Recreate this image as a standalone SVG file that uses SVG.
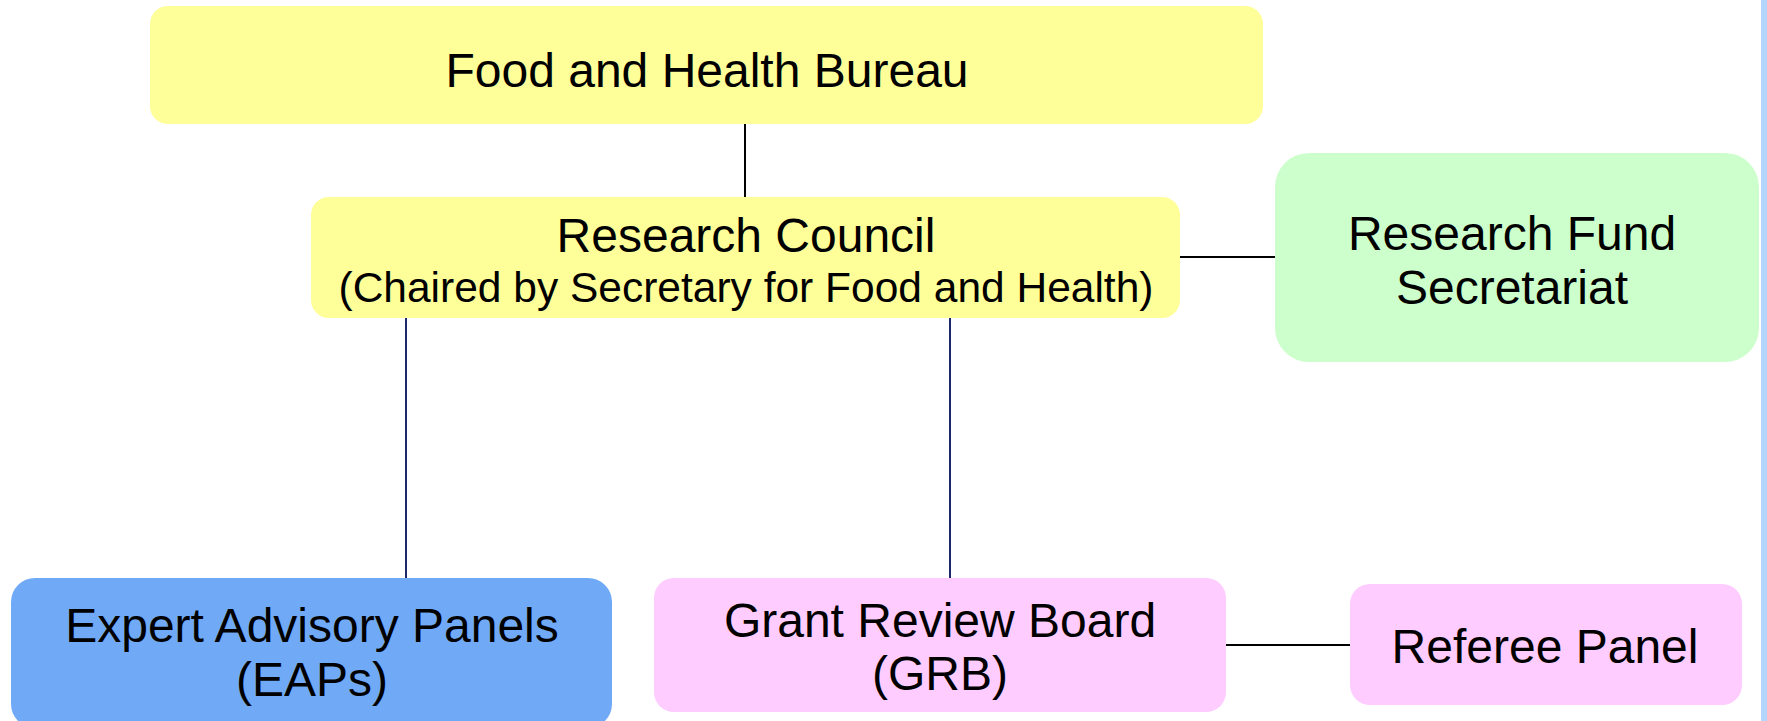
<svg xmlns="http://www.w3.org/2000/svg" width="1767" height="721" viewBox="0 0 1767 721">
<style>
text{font-family:"Liberation Sans",Arial,sans-serif;fill:#000;text-anchor:middle}
.t48{font-size:48px}
.t43{font-size:42.5px}
.yel{fill:#ffff99}
.grn{fill:#ccffcc}
.blu{fill:#70aaf7}
.pnk{fill:#ffccff}
.blk{stroke:#000;stroke-width:2;fill:none}
.nav{stroke:#1a2a6c;stroke-width:2;fill:none}
</style>
<rect x="0" y="0" width="1767" height="721" fill="#ffffff"/>
<rect x="1761" y="0" width="6" height="721" fill="#b5d6fc"/>
<g id="connectors">
<line class="blk" x1="745" y1="124" x2="745" y2="197"/>
<line class="blk" x1="1180" y1="257" x2="1275" y2="257"/>
<line class="nav" x1="406" y1="318" x2="406" y2="578"/>
<line class="nav" x1="950" y1="318" x2="950" y2="578"/>
<line class="blk" x1="1226" y1="645" x2="1350" y2="645"/>
</g>
<g id="fhb">
<rect class="yel" x="150" y="6" width="1113" height="118" rx="18"/>
<text class="t48" x="707" y="87">Food and Health Bureau</text>
</g>
<g id="rc">
<rect class="yel" x="311" y="197" width="869" height="121" rx="18"/>
<text class="t48" x="746" y="252">Research Council</text>
<text class="t43" x="746" y="302">(Chaired by Secretary for Food and Health)</text>
</g>
<g id="rfs">
<rect class="grn" x="1275" y="153" width="484" height="209" rx="34"/>
<text class="t48" x="1512" y="250">Research Fund</text>
<text class="t48" x="1512" y="304">Secretariat</text>
</g>
<g id="eap">
<rect class="blu" x="11" y="578" width="601" height="150" rx="24"/>
<text class="t48" x="312" y="642">Expert Advisory Panels</text>
<text class="t48" x="312" y="696">(EAPs)</text>
</g>
<g id="grb">
<rect class="pnk" x="654" y="578" width="572" height="134" rx="20"/>
<text class="t48" x="940" y="637">Grant Review Board</text>
<text class="t48" x="940" y="690">(GRB)</text>
</g>
<g id="referee">
<rect class="pnk" x="1350" y="584" width="392" height="121" rx="20"/>
<text class="t48" x="1545" y="663">Referee Panel</text>
</g>
</svg>
